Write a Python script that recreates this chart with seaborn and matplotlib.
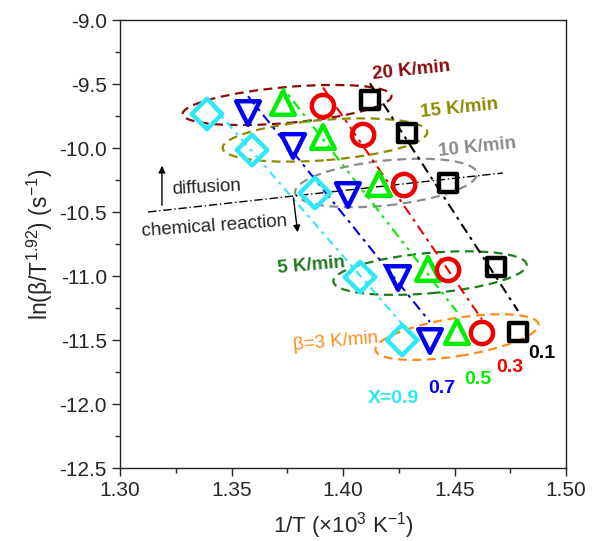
import numpy as np
import matplotlib
matplotlib.use("Agg")
import matplotlib.pyplot as plt
from matplotlib.patches import Ellipse
from matplotlib.ticker import MultipleLocator, FormatStrFormatter
import seaborn as sns

# Heating rates (K/min), row order used in every series below
rates = [20, 15, 10, 5, 3]

# 1/T (x10^3 K^-1) and ln(beta/T^1.92) at each conversion level
invT_x09 = [1.3390, 1.3592, 1.3874, 1.4076, 1.4265]
lnb_x09 = [-9.734, -10.016, -10.352, -11.008, -11.500]
invT_x07 = [1.3574, 1.3776, 1.4022, 1.4247, 1.4390]
lnb_x07 = [-9.727, -9.984, -10.367, -11.016, -11.508]
invT_x05 = [1.3731, 1.3910, 1.4161, 1.4381, 1.4511]
lnb_x05 = [-9.648, -9.914, -10.281, -10.945, -11.438]
invT_x03 = [1.3910, 1.4090, 1.4274, 1.4471, 1.4623]
lnb_x03 = [-9.672, -9.898, -10.289, -10.953, -11.445]
invT_x01 = [1.4121, 1.4287, 1.4471, 1.4686, 1.4785]
lnb_x01 = [-9.625, -9.883, -10.273, -10.930, -11.438]

conv_labels = ["X=0.9", "0.7", "0.5", "0.3", "0.1"]
rate_labels = ["20 K/min", "15 K/min", "10 K/min", "5 K/min", "β=3 K/min"]

sns.set_style("ticks")
plt.rcParams["font.family"] = ["Liberation Sans", "DejaVu Sans"]
plt.rcParams["mathtext.fontset"] = "custom"
plt.rcParams["mathtext.rm"] = "Liberation Sans"
plt.rcParams["mathtext.it"] = "Liberation Sans:italic"
plt.rcParams["mathtext.bf"] = "Liberation Sans:bold"

fig = plt.figure(figsize=(5.93, 5.41), dpi=100)
ax = fig.add_axes([0.2024, 0.1349, 0.7521, 0.8281])
ax.set_xlim(1.30, 1.50)
ax.set_ylim(-12.5, -9.0)

series = [
    (invT_x09, lnb_x09, "D", "#2EE8F5", 15.5, (0, (1.5, 2.5, 4, 2.5))),
    (invT_x07, lnb_x07, "v", "#0000F0", 17, (0, (5, 2.5, 1.5, 2.5))),
    (invT_x05, lnb_x05, "^", "#00EE00", 17, (0, (1.5, 2.5, 1.5, 2.5, 5, 2.5))),
    (invT_x03, lnb_x03, "o", "#F00000", 16, (0, (5, 2.5, 1.5, 2.5))),
    (invT_x01, lnb_x01, "s", "#000000", 13, (0, (5, 2.5, 1.5, 2.5))),
]

# Linear fit of each iso-conversion series, drawn across its own x span
for xs, ys, mk, col, ms, dash in series:
    xs = np.asarray(xs)
    ys = np.asarray(ys)
    k, b = np.polyfit(xs, ys, 1)
    xf = np.array([xs.min(), xs.max()])
    sns.lineplot(x=xf, y=k * xf + b, color=col, lw=1.5, linestyle=dash,
                 ax=ax, zorder=2)

for xs, ys, mk, col, ms, dash in series:
    sns.scatterplot(x=xs, y=ys, marker=mk, s=ms ** 2, color=col,
                    facecolor="none", edgecolor=col, linewidth=3.2,
                    ax=ax, zorder=3)

# Dashed ellipses grouping each heating rate (axes-fraction size, degrees)
ellipses = [
    (1.3749, -9.664, 0.47, 0.080, 5.0, "#8B0A0A"),
    (1.3919, -9.9375, 0.46, 0.090, 4.5, "#8B8B00"),
    (1.4193, -10.273, 0.41, 0.100, 6.0, "#8C8C8C"),
    (1.4390, -10.977, 0.435, 0.090, 5.0, "#1E7B1E"),
    (1.4511, -11.477, 0.37, 0.085, 9.0, "#FF8C1A"),
]
for cx, cy, w, h, ang, col in ellipses:
    fx, fy = ax.transLimits.transform((cx, cy))
    ax.add_patch(Ellipse((fx, fy), w, h, angle=ang, transform=ax.transAxes,
                         fill=False, ls=(0, (4, 2.5)), lw=1.6, ec=col,
                         zorder=1))

# Heating-rate labels
rate_pos = [(1.4305, -9.391, 6), (1.452, -9.6875, 6), (1.4601, -9.992, 6),
            (1.3857, -10.922, 5), (1.3969, -11.516, 5)]
rate_cols = ["#8B0A0A", "#8B8B00", "#8C8C8C", "#1E7B1E", "#FF8C1A"]
for (tx, ty, rot), lab, col in zip(rate_pos, rate_labels, rate_cols):
    weight = "normal" if lab.startswith("β") else "bold"
    ax.text(tx, ty, lab, color=col, fontsize=13.5, fontweight=weight,
            rotation=rot, ha="center", va="center", zorder=4)

# Conversion labels
conv_pos = [(1.4224, -11.953), (1.4444, -11.875), (1.4605, -11.805),
            (1.4749, -11.711), (1.4892, -11.602)]
conv_cols = ["#2EE8F5", "#0000F0", "#00EE00", "#F00000", "#000000"]
for (tx, ty), lab, col in zip(conv_pos, conv_labels, conv_cols):
    ax.text(tx, ty, lab, color=col, fontsize=14, fontweight="bold",
            ha="center", va="center", zorder=4)

# Boundary between diffusion and chemical-reaction control
ax.plot([1.3126, 1.4717], [-10.50, -10.195], color="black", lw=1.0,
        linestyle=(0, (6, 2, 1, 2)), zorder=1)
ax.annotate("", xy=(1.3188, -10.117), xytext=(1.3188, -10.469),
            arrowprops=dict(arrowstyle="-|>", color="black", lw=1.0,
                            mutation_scale=10))
ax.annotate("", xy=(1.3798, -10.68), xytext=(1.3776, -10.367),
            arrowprops=dict(arrowstyle="-|>", color="black", lw=1.0,
                            mutation_scale=10))
ax.text(1.339, -10.3125, "diffusion", fontsize=13.5, rotation=3,
        ha="center", va="center")
ax.text(1.3422, -10.609, "chemical reaction", fontsize=13.5, rotation=4,
        ha="center", va="center")

ax.xaxis.set_major_locator(MultipleLocator(0.05))
ax.xaxis.set_minor_locator(MultipleLocator(0.025))
ax.yaxis.set_major_locator(MultipleLocator(0.5))
ax.yaxis.set_minor_locator(MultipleLocator(0.25))
ax.xaxis.set_major_formatter(FormatStrFormatter("%.2f"))
ax.yaxis.set_major_formatter(FormatStrFormatter("%.1f"))
ax.tick_params(which="major", direction="out", length=6, width=1,
               labelsize=15, top=False, right=False)
ax.tick_params(which="minor", direction="out", length=3.5, width=1,
               top=False, right=False)
for sp in ax.spines.values():
    sp.set_linewidth(1.0)
    sp.set_color("#222222")

ax.set_xlabel(r"1/T ($\times$10$^3$ K$^{-1}$)", fontsize=16, labelpad=7)
ax.set_ylabel(r"ln(β/T$^{1.92}$) (s$^{-1}$)", fontsize=16.5, labelpad=3)

fig.savefig("out.png", dpi=100)
